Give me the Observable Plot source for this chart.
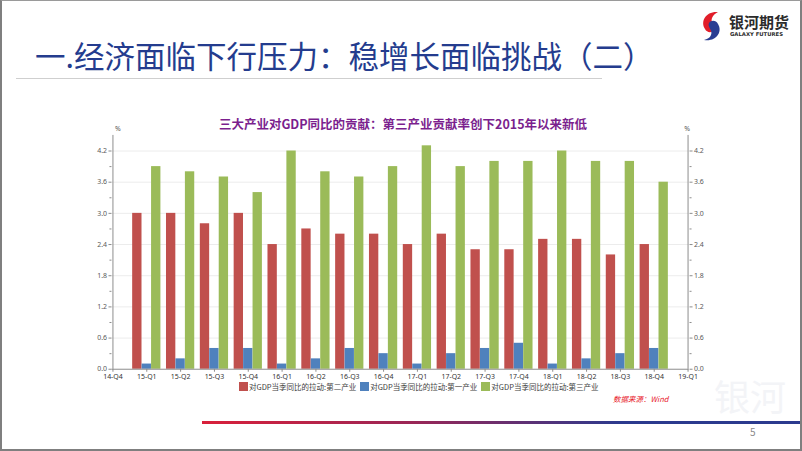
<!DOCTYPE html>
<html><head><meta charset="utf-8">
<script src="https://cdn.jsdelivr.net/npm/d3@7"></script>
<script src="https://cdn.jsdelivr.net/npm/@observablehq/plot@0.6"></script>
<style>
html,body{margin:0;padding:0;background:#fff;}
#slide{position:relative;width:802px;height:451px;overflow:hidden;box-sizing:border-box;border:2px solid #7f7f7f;border-top:1px solid #9a9a9a;font-family:"Noto Sans CJK SC","Noto Sans",sans-serif;}
.abs{position:absolute;white-space:nowrap;}
#title{left:33px;top:33px;font-size:30.5px;color:#243c8e;line-height:42px;}
#uline{left:14px;top:77px;width:586px;height:1px;background:#cfcfcf;}
#ctitle{left:0;width:802px;top:113px;text-align:center;font-size:12.5px;font-weight:bold;color:#7b1f8e;}
#legend{left:237px;top:380px;font-size:7.5px;color:#404040;display:flex;align-items:center;}
#legend span.sw{display:inline-block;width:9px;height:9px;margin-right:1px;}
#legend span.it{margin-right:4px;}
#src{left:611px;top:392px;font-size:7.5px;color:#e8202a;font-style:italic;}
#bline{left:200px;top:420px;width:600px;height:3px;background:linear-gradient(to right,#d9203a,#9a2656 35%,#2b3a8e 70%,#2b3a8e);}
#pnum{left:748px;top:423px;font-size:10px;color:#8a8a8a;}
#logo{left:696px;top:8px;}
#wm{left:712px;top:374px;font-size:36px;line-height:40px;color:#f3f4f7;font-family:"Noto Sans CJK SC";}
</style></head>
<body>
<div id="slide">
<div class="abs" id="wm">银河</div>
<div class="abs" id="title">一.经济面临下行压力：稳增长面临挑战（二）</div>
<div class="abs" id="uline"></div>
<div class="abs" id="logo">
<svg width="100" height="34">
<path d="M20 3 C8 2 2 12 7 20 C9 24 14 24 16 21 C18 17 12 14 14 9 C15 6 18 4 20 3 Z" fill="#e11e2a"/>
<path d="M6 31 C18 33 25 23 20 15 C18 11 13 11 11 14 C9 18 15 21 13 26 C12 29 9 30 6 31 Z" fill="#2a3d92"/>
<text x="31" y="19" font-size="15" font-weight="bold" fill="#2b2b2b" font-family="Noto Sans CJK SC">银河期货</text>
<text x="32" y="27" font-size="5.3" font-weight="bold" fill="#2b2b2b" font-family="DejaVu Sans">GALAXY FUTURES</text>
</svg>
</div>
<div class="abs" id="ctitle">三大产业对GDP同比的贡献：第三产业贡献率创下2015年以来新低</div>
<div class="abs" id="chart" style="left:0;top:120px;"></div>
<div class="abs" id="legend"></div>
<div class="abs" id="src">数据来源：Wind</div>
<div class="abs" id="bline"></div>
<div class="abs" id="pnum">5</div>
</div>
<script>
const quarters = ["14-Q4","15-Q1","15-Q2","15-Q3","15-Q4","16-Q1","16-Q2","16-Q3","16-Q4","17-Q1","17-Q2","17-Q3","17-Q4","18-Q1","18-Q2","18-Q3","18-Q4","19-Q1"];
const dataQuarters = ["15-Q1","15-Q2","15-Q3","15-Q4","16-Q1","16-Q2","16-Q3","16-Q4","17-Q1","17-Q2","17-Q3","17-Q4","18-Q1","18-Q2","18-Q3","18-Q4"];
const secondary = [3.0,3.0,2.8,3.0,2.4,2.7,2.6,2.6,2.4,2.6,2.3,2.3,2.5,2.5,2.2,2.4];
const primary   = [0.1,0.2,0.4,0.4,0.1,0.2,0.4,0.3,0.1,0.3,0.4,0.5,0.1,0.2,0.3,0.4];
const tertiary  = [3.9,3.8,3.7,3.4,4.2,3.8,3.7,3.9,4.3,3.9,4.0,4.0,4.2,4.0,4.0,3.6];
const seriesNames = ["对GDP当季同比的拉动:第二产业","对GDP当季同比的拉动:第一产业","对GDP当季同比的拉动:第三产业"];
const colors = ["#c0504d","#4f81bd","#9bbb59"];
const yTicks = [0,0.6,1.2,1.8,2.4,3.0,3.6,4.2];
const yMinor = [0.3,0.9,1.5,2.1,2.7,3.3,3.9];

const W = 802, H = 265, mL = 110, mR = 112, mT = 14, mB = 16;
const bw = (W - mL - mR) / (quarters.length - 1);
const barW = 9.5;
const groupPad = bw/2 - 1.5*barW;
const toRows = vals => dataQuarters.map((q,i)=>({q, v: vals[i]}));
const all = [secondary, primary, tertiary];

const bars = all.map((vals,k)=>Plot.barY(toRows(vals), {
  x:"q", y:"v", fill: colors[k],
  insetLeft: groupPad + k*barW,
  insetRight: bw - groupPad - (k+1)*barW
}));

const axisStyle = {tickSize:3, tickPadding:2, stroke:"#8c8c8c", fill:"#595959", fontSize:7, label:null};

const chart = Plot.plot({
  width: W, height: H,
  marginLeft: mL, marginRight: mR, marginTop: mT, marginBottom: mB,
  style: {fontFamily:"'Noto Sans', sans-serif", fontSize:"7px", background:"transparent", color:"#595959"},
  x: {type:"band", domain: quarters, padding:0, range:[mL - bw/2, W - mR + bw/2], axis:null},
  y: {domain:[0,4.5], axis:null},
  marks: [
    Plot.gridY(yTicks.slice(1), {stroke:"#ececec", strokeOpacity:1}),
    ...bars,
    Plot.ruleY([0], {stroke:"#8c8c8c"}),
    Plot.ruleX([quarters[0], quarters[quarters.length-1]], {y1:0, y2:4.5, stroke:"#8c8c8c"}),
    Plot.axisY(yTicks, {...axisStyle, anchor:"left", tickFormat: d=>d.toFixed(1)}),
    Plot.axisY(yMinor, {...axisStyle, anchor:"left", tickSize:2, tickFormat: ()=>""}),
    Plot.axisY(yTicks, {...axisStyle, anchor:"right", tickFormat: d=>d.toFixed(1)}),
    Plot.axisY(yMinor, {...axisStyle, anchor:"right", tickSize:2, tickFormat: ()=>""}),
    Plot.axisX(quarters, {...axisStyle, anchor:"bottom", fill:"#333"}),
    Plot.text(["%"], {frameAnchor:"top-left", dx:3, dy:-9, fontSize:7, fill:"#595959"}),
    Plot.text(["%"], {frameAnchor:"top-right", dx:1, dy:-9, fontSize:7, fill:"#595959"})
  ]
});
document.getElementById("chart").appendChild(chart);

const lg = document.getElementById("legend");
seriesNames.forEach((n,k)=>{
  const sw = document.createElement("span"); sw.className="sw"; sw.style.background = colors[k];
  const t = document.createElement("span"); t.className="it"; t.textContent = n;
  lg.appendChild(sw); lg.appendChild(t);
});
</script>
</body></html>
